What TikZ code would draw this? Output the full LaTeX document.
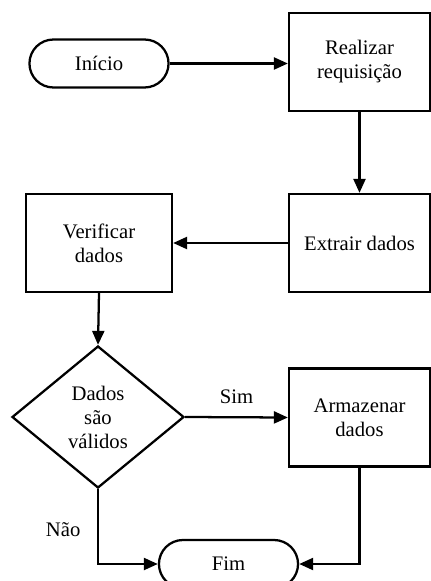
\documentclass[tikz,border=0pt]{standalone}
\usepackage{fontspec}
\setmainfont{Liberation Serif}
\usepackage{tikz}
\usetikzlibrary{shapes.geometric, shapes.misc, arrows.meta}
\usetikzlibrary{calc,positioning}

\tikzset{
    terminal/.style={draw, line width=1.7pt, rounded rectangle, minimum width=111pt, minimum height=36pt, align=center},
    processo/.style={draw, line width=1.7pt, rectangle, minimum width=105.75pt, minimum height=73.5pt, align=center},
    decisao/.style={draw, line width=1.7pt, diamond, inner sep=0pt, minimum width=129pt, minimum height=106.5pt, align=center},
    seta/.style={-{Triangle[length=10.5pt,width=9pt]}, line width=1.7pt},
    every node/.style={font=\fontsize{15.5pt}{18pt}\selectfont},
}

\begin{document}
\begin{tikzpicture}[x=0.75pt,y=-0.75pt]

    \useasboundingbox (0,0) rectangle (431,581);

    % Blocos
    \node[terminal] (inicio) at (99,63.5) {Início};
    \node[processo] (realizar) at (359.5,62) {Realizar\\requisição};
    \node[processo] (extrair) at (359.5,243) {Extrair dados};
    \node[processo, minimum width=109.5pt] (verificar) at (99,243) {Verificar\\dados};
    \node[decisao] (validos) at (98,417) {Dados\\são\\válidos};
    \node[processo] (armazenar) at (359.5,417.5) {Armazenar\\dados};
    \node[terminal] (fim) at (228.5,564) {Fim};

    % Setas
    \draw[seta] (inicio.east) -- (inicio.east -| realizar.west);
    \draw[seta] (realizar.south) -- (extrair.north);
    \draw[seta] (extrair.west) -- (verificar.east);
    \draw[seta] (verificar.south) -- (validos.north);
    \draw[seta] (validos.east) -- node[above=6pt] {Sim} (armazenar.west);
    \draw[seta] (validos.south) |- node[pos=0.27, left=9pt] {Não} (fim.west);
    \draw[seta] (armazenar.south) |- (fim.east);
\end{tikzpicture}
\end{document}
